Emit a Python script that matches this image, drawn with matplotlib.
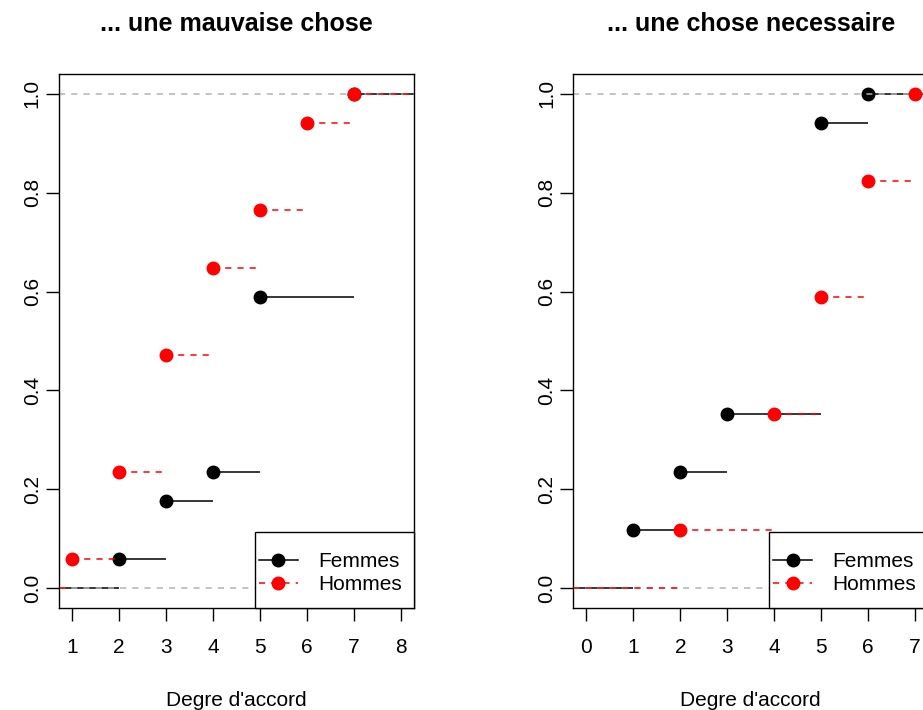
import matplotlib.pyplot as plt
from matplotlib.lines import Line2D
from matplotlib.patches import Rectangle

plt.rcParams['font.family'] = ['Liberation Sans', 'DejaVu Sans']

# ECDF knots (Degre d'accord) and cumulative proportions
titles = ['... une mauvaise chose', '... une chose necessaire']
femmes_x = [[2, 3, 4, 5, 7], [1, 2, 3, 5, 6]]
femmes_y = [[0.059, 0.176, 0.235, 0.588, 1.0], [0.118, 0.235, 0.353, 0.941, 1.0]]
hommes_x = [[1, 2, 3, 4, 5, 6, 7], [2, 4, 5, 6, 7]]
hommes_y = [[0.059, 0.235, 0.471, 0.647, 0.765, 0.941, 1.0], [0.118, 0.353, 0.588, 0.824, 1.0]]
xlims = [(0.72, 8.28), (-0.28, 7.28)]
xticks = [[1, 2, 3, 4, 5, 6, 7, 8], [0, 1, 2, 3, 4, 5, 6, 7]]
yticks = [0.0, 0.2, 0.4, 0.6, 0.8, 1.0]
labels = ['Femmes', 'Hommes']

W, H = 923, 710
fig = plt.figure(figsize=(W / 100, H / 100), dpi=100)
lefts = [59, 573.3]
axes = [fig.add_axes([l / W, (H - 608) / H, 355 / W, 534 / H]) for l in lefts]


def draw_ecdf(ax, xs, ys, color, ls, z):
    starts = [-100] + list(xs)
    ends = list(xs) + [100]
    levels = [0.0] + list(ys)
    ax.hlines(levels, starts, ends, colors=color, linestyles=ls, lw=1.1, zorder=z)
    ax.plot(xs, ys, 'o', color=color, ms=9, zorder=z + 0.1)


dash = (0, (4, 4))
for i, ax in enumerate(axes):
    draw_ecdf(ax, femmes_x[i], femmes_y[i], 'black', 'solid', 2)
    for h in (0, 1):
        ax.axhline(h, color='#b3b3b3', ls=dash, lw=1.1, zorder=2.5)
    draw_ecdf(ax, hommes_x[i], hommes_y[i], 'red', dash, 3)

    ax.set_xticks(xticks[i])
    ax.set_yticks(yticks)
    ax.set_xlim(*xlims[i])
    ax.set_ylim(-0.04, 1.04)
    ax.set_yticklabels(['%.1f' % v for v in yticks], rotation=90, va='center')
    ax.tick_params(length=9.4, width=1.0, labelsize=15, pad=12)
    ax.tick_params(axis='y', pad=3)
    for s in ax.spines.values():
        s.set_linewidth(1.0)
    ax.set_title(titles[i], fontsize=18, fontweight='bold', pad=31)
    ax.set_xlabel("Degre d'accord", fontsize=15, labelpad=25)

    # legend box like R's legend("bottomright")
    box = Rectangle((0.552, 0), 0.448, 0.143, transform=ax.transAxes,
                    facecolor='white', edgecolor='black', lw=1.0, zorder=9, clip_on=False)
    ax.add_patch(box)
    handles = [Line2D([], [], color='black', marker='o', ms=9, lw=1.1),
               Line2D([], [], color='red', marker='o', ms=9, lw=1.1, ls=dash)]
    leg = ax.legend(handles, labels, loc='center left', bbox_to_anchor=(0.562, -0.006, 0.43, 0.143),
                    fontsize=15, frameon=False, borderaxespad=0, borderpad=0,
                    handlelength=1.9, handletextpad=0.95, labelspacing=0.2)
    leg.set_zorder(10)

plt.savefig('out.png', dpi=100)
